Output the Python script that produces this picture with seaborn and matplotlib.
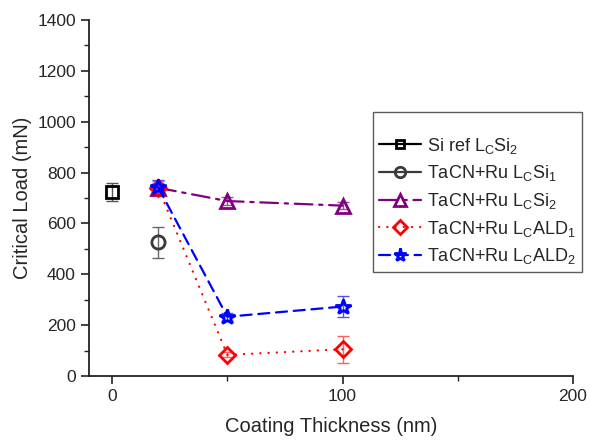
import matplotlib
matplotlib.use("Agg")
import matplotlib.pyplot as plt
import seaborn as sns
import pandas as pd
from matplotlib.ticker import MultipleLocator

sns.set_style("ticks")
plt.rcParams['font.family'] = ['Liberation Sans', 'DejaVu Sans']
plt.rcParams['mathtext.fontset'] = 'custom'
plt.rcParams['mathtext.rm'] = 'Liberation Sans'
plt.rcParams['mathtext.it'] = 'Liberation Sans'
plt.rcParams['mathtext.default'] = 'regular'

# data
si_ref_x = [0]
si_ref_y = [725]
si_ref_err = [35]

si1_x = [20]
si1_y = [525]
si1_err = [60]

si2_x = [20, 50, 100]
si2_y = [740, 688, 670]
si2_err = [20, 15, 15]

ald1_x = [20, 50, 100]
ald1_y = [740, 83, 105]
ald1_err = [25, 10, 53]

ald2_x = [20, 50, 100]
ald2_y = [742, 233, 273]
ald2_err = [30, 15, 40]

labels = ["Si ref L$_C$Si$_2$", "TaCN+Ru L$_C$Si$_1$", "TaCN+Ru L$_C$Si$_2$",
          "TaCN+Ru L$_C$ALD$_1$", "TaCN+Ru L$_C$ALD$_2$"]

series = [
    (si_ref_x, si_ref_y, si_ref_err, "black", "#555555", "-", "s", 8.5, 5.5),
    (si1_x, si1_y, si1_err, "#3a3a3a", "#666666", "-", "o", 9.5, 7.5),
    (si2_x, si2_y, si2_err, "#800080", "#a050a0", (0, (8, 3, 1.5, 3)), "^", 10.5, 8.5),
    (ald1_x, ald1_y, ald1_err, "#ff0000", "#ff6060", (0, (0.1, 3.6)), "D", 7.8, 7.0),
    (ald2_x, ald2_y, ald2_err, "#0000ff", "#5050ff", (0, (5, 3)), "*", 11.5, 9.5),
]

fig = plt.figure(figsize=(5.9, 4.4), dpi=100)
ax = fig.add_axes([0.151, 0.1455, 0.82, 0.809])

for (x, y, e, c, ec, ls, m, ms, lms), lab in zip(series, labels):
    ax.errorbar(x, y, yerr=e, fmt='none', ecolor=ec, elinewidth=1.0, capsize=4, capthick=1.0, zorder=2)
    df = pd.DataFrame({"x": x, "y": y})
    sns.lineplot(data=df, x="x", y="y", ax=ax, color=c, linestyle=ls, linewidth=1.6,
                 marker=m, markersize=ms, markerfacecolor='none', markeredgecolor=c,
                 markeredgewidth=2.0, label=lab, zorder=3, dash_capstyle='round')

ax.set_xlim(-10, 200)
ax.set_ylim(0, 1400)
ax.xaxis.set_major_locator(MultipleLocator(100))
ax.xaxis.set_minor_locator(MultipleLocator(50))
ax.yaxis.set_major_locator(MultipleLocator(200))
ax.yaxis.set_minor_locator(MultipleLocator(100))
ax.tick_params(which='major', length=6, width=1.2, labelsize=12.5, color='#222222')
ax.tick_params(which='minor', length=3.5, width=1.0, color='#222222')
for s in ["top", "right"]:
    ax.spines[s].set_visible(False)
for s in ["left", "bottom"]:
    ax.spines[s].set_linewidth(1.3)
    ax.spines[s].set_color('#222222')

ax.set_xlabel("Coating Thickness (nm)", fontsize=14.5, labelpad=9)
ax.set_ylabel("Critical Load (mN)", fontsize=14.5, labelpad=4)

leg = ax.legend(loc='upper left', bbox_to_anchor=(0.587, 0.742), fontsize=13, title=" ",
                title_fontsize=8, frameon=True, fancybox=False, edgecolor='#333333',
                handlelength=2.3, handletextpad=0.35, labelspacing=0.42, borderpad=0.35,
                borderaxespad=0)
leg.get_frame().set_linewidth(1.0)
for h, s in zip(leg.legend_handles, series):
    h.set_markersize(s[8])

fig.savefig("out.png", dpi=100)
